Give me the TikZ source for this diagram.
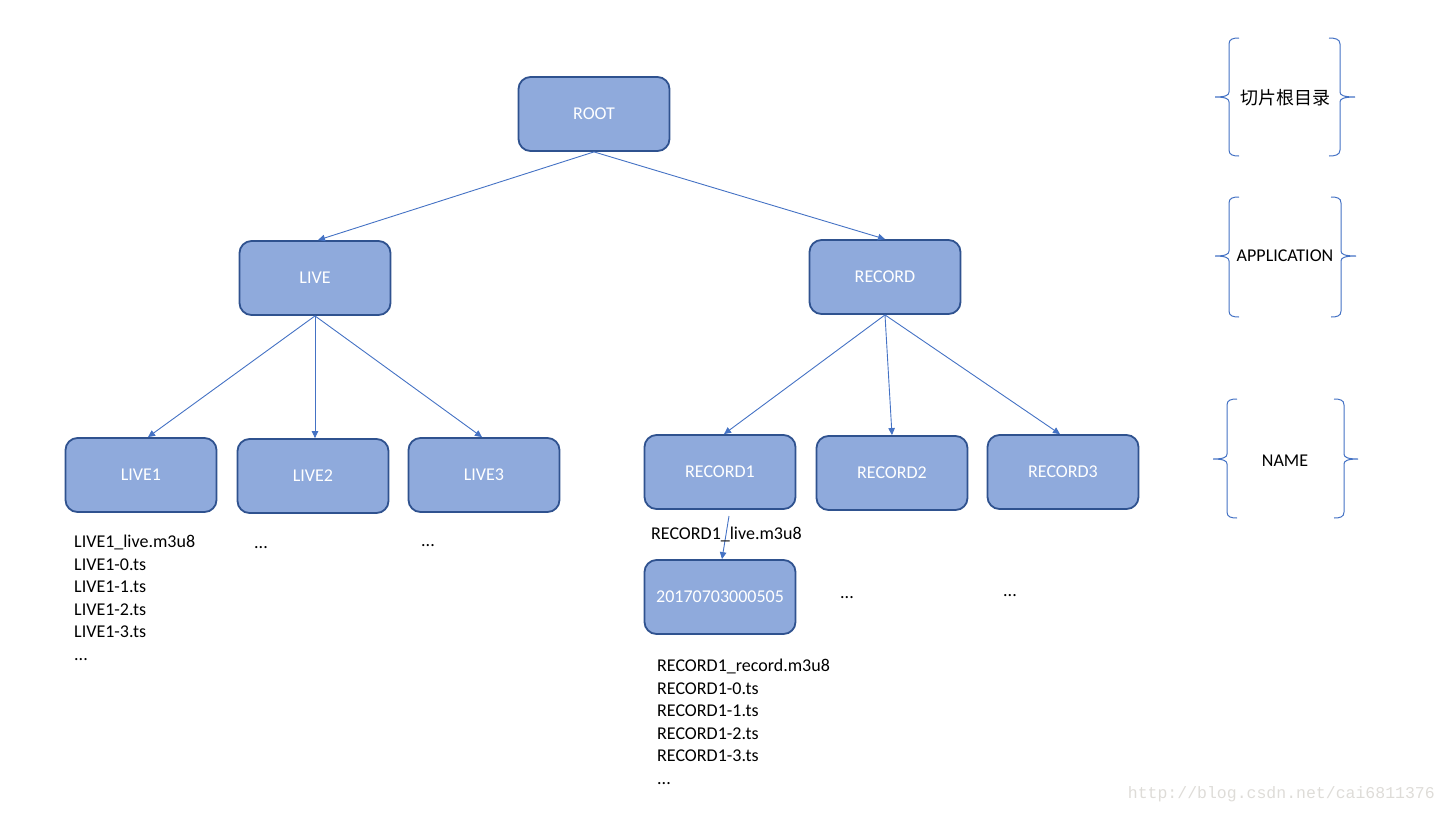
\documentclass[tikz,border=0pt]{standalone}
\usepackage{fontspec}
\setmainfont{Carlito}
\newfontfamily\cjk{Noto Sans CJK SC}
\newfontfamily\wmfont{Liberation Mono}
\usetikzlibrary{arrows.meta,calc}
\definecolor{boxfill}{RGB}{143,170,220}
\definecolor{boxborder}{RGB}{47,82,143}
\definecolor{linkblue}{RGB}{68,114,196}
\definecolor{wmgray}{RGB}{222,220,216}
\tikzset{
  box/.style={rectangle, rounded corners=12pt, fill=boxfill, draw=boxborder, line width=1.8pt,
    minimum width=151pt, minimum height=74pt, text=white, font=\fontsize{18}{20}\selectfont, inner sep=0pt},
  link/.style={draw=linkblue, line width=0.9pt, -{Triangle[width=6.5pt,length=7pt]}},
  brace/.style={draw=linkblue, line width=1pt},
  listtext/.style={align=left, inner sep=0pt, anchor=base west, font=\fontsize{18}{22.5}\selectfont},
  label/.style={inner sep=0pt, font=\fontsize{18}{20}\selectfont},
}
\begin{document}
\begin{tikzpicture}[x=1pt,y=-1pt]
\useasboundingbox (0,0) rectangle (1446,812);
% boxes
\node[box] (root) at (594,114) {ROOT};
\node[box] (live) at (315,278) {LIVE};
\node[box] (record) at (885,277) {RECORD};
\node[box] (live1) at (141,475) {LIVE1};
\node[box] (live2) at (313,476) {LIVE2};
\node[box] (live3) at (484,475) {LIVE3};
\node[box] (record1) at (720,472) {RECORD1};
\node[box] (record2) at (892,473) {RECORD2};
\node[box] (record3) at (1063,472) {RECORD3};
\node[box] (ts) at (720,597) {20170703000505};
% connectors
\draw[link] (root.south) -- ([xshift=3pt]live.north);
\draw[link] (root.south) -- (record.north);
\draw[link] (live.south) -- ([xshift=7pt]live1.north);
\draw[link] (live.south) -- ([xshift=2pt]live2.north);
\draw[link] (live.south) -- ([xshift=-2pt]live3.north);
\draw[link] (record.south) -- ([xshift=4pt]record1.north);
\draw[link] (record.south) -- (record2.north);
\draw[link] (record.south) -- ([xshift=-3pt]record3.north);
\coordinate (r1start) at (729,516);
\draw[link] (r1start) -- ([xshift=2pt]ts.north);
% lists (base anchor = last line's baseline)
\node[listtext] (live1list) at (74,660) {LIVE1\_live.m3u8\\LIVE1-0.ts\\LIVE1-1.ts\\LIVE1-2.ts\\LIVE1-3.ts\\...};
\node[listtext] (live2dots) at (254,548) {...};
\node[listtext] (live3dots) at (421,546) {...};
\node[listtext] (r1live) at (651,539) {RECORD1\_live.m3u8};
\node[listtext] (tslist) at (657,784) {RECORD1\_record.m3u8\\RECORD1-0.ts\\RECORD1-1.ts\\RECORD1-2.ts\\RECORD1-3.ts\\...};
\node[listtext] (r2dots) at (840,598) {...};
\node[listtext] (r3dots) at (1003,596) {...};
% braces
\draw[brace] (1239,38) .. controls (1233,38) and (1229,39) .. (1229,44) -- (1229,92) .. controls (1229,95) and (1226,97) .. (1215,97) .. controls (1226,97) and (1229,99) .. (1229,102) -- (1229,150) .. controls (1229,155) and (1233,156) .. (1239,156);
\draw[brace] (1329,38) .. controls (1335,38) and (1340,39) .. (1340,44) -- (1340,92) .. controls (1340,95) and (1343,97) .. (1355,97) .. controls (1343,97) and (1340,99) .. (1340,102) -- (1340,150) .. controls (1340,155) and (1335,156) .. (1329,156);
\draw[brace] (1239,197) .. controls (1233,197) and (1229,198) .. (1229,203) -- (1229,251) .. controls (1229,254) and (1226,256) .. (1215,256) .. controls (1226,256) and (1229,258) .. (1229,261) -- (1229,311) .. controls (1229,316) and (1233,317) .. (1239,317);
\draw[brace] (1331,197) .. controls (1337,197) and (1341,198) .. (1341,203) -- (1341,251) .. controls (1341,254) and (1344,256) .. (1356,256) .. controls (1344,256) and (1341,258) .. (1341,261) -- (1341,311) .. controls (1341,316) and (1337,317) .. (1331,317);
\draw[brace] (1237,399) .. controls (1231,399) and (1227,400) .. (1227,405) -- (1227,454) .. controls (1227,457) and (1224,459) .. (1213,459) .. controls (1224,459) and (1227,461) .. (1227,464) -- (1227,512) .. controls (1227,517) and (1231,518) .. (1237,518);
\draw[brace] (1334,399) .. controls (1340,399) and (1344,400) .. (1344,405) -- (1344,454) .. controls (1344,457) and (1347,459) .. (1358,459) .. controls (1347,459) and (1344,461) .. (1344,464) -- (1344,512) .. controls (1344,517) and (1340,518) .. (1334,518);
% labels
\node[label,font=\cjk\fontsize{18}{20}\selectfont] (lroot) at (1285,98) {切片根目录};
\node[label] (lapp) at (1285,256) {APPLICATION};
\node[label] (lname) at (1285,461) {NAME};
% watermark
\node[inner sep=0pt, anchor=base east, text=wmgray, font=\wmfont\fontsize{16.5}{18}\selectfont] (wm) at (1435,798) {http://blog.csdn.net/cai6811376};
\end{tikzpicture}
\end{document}
